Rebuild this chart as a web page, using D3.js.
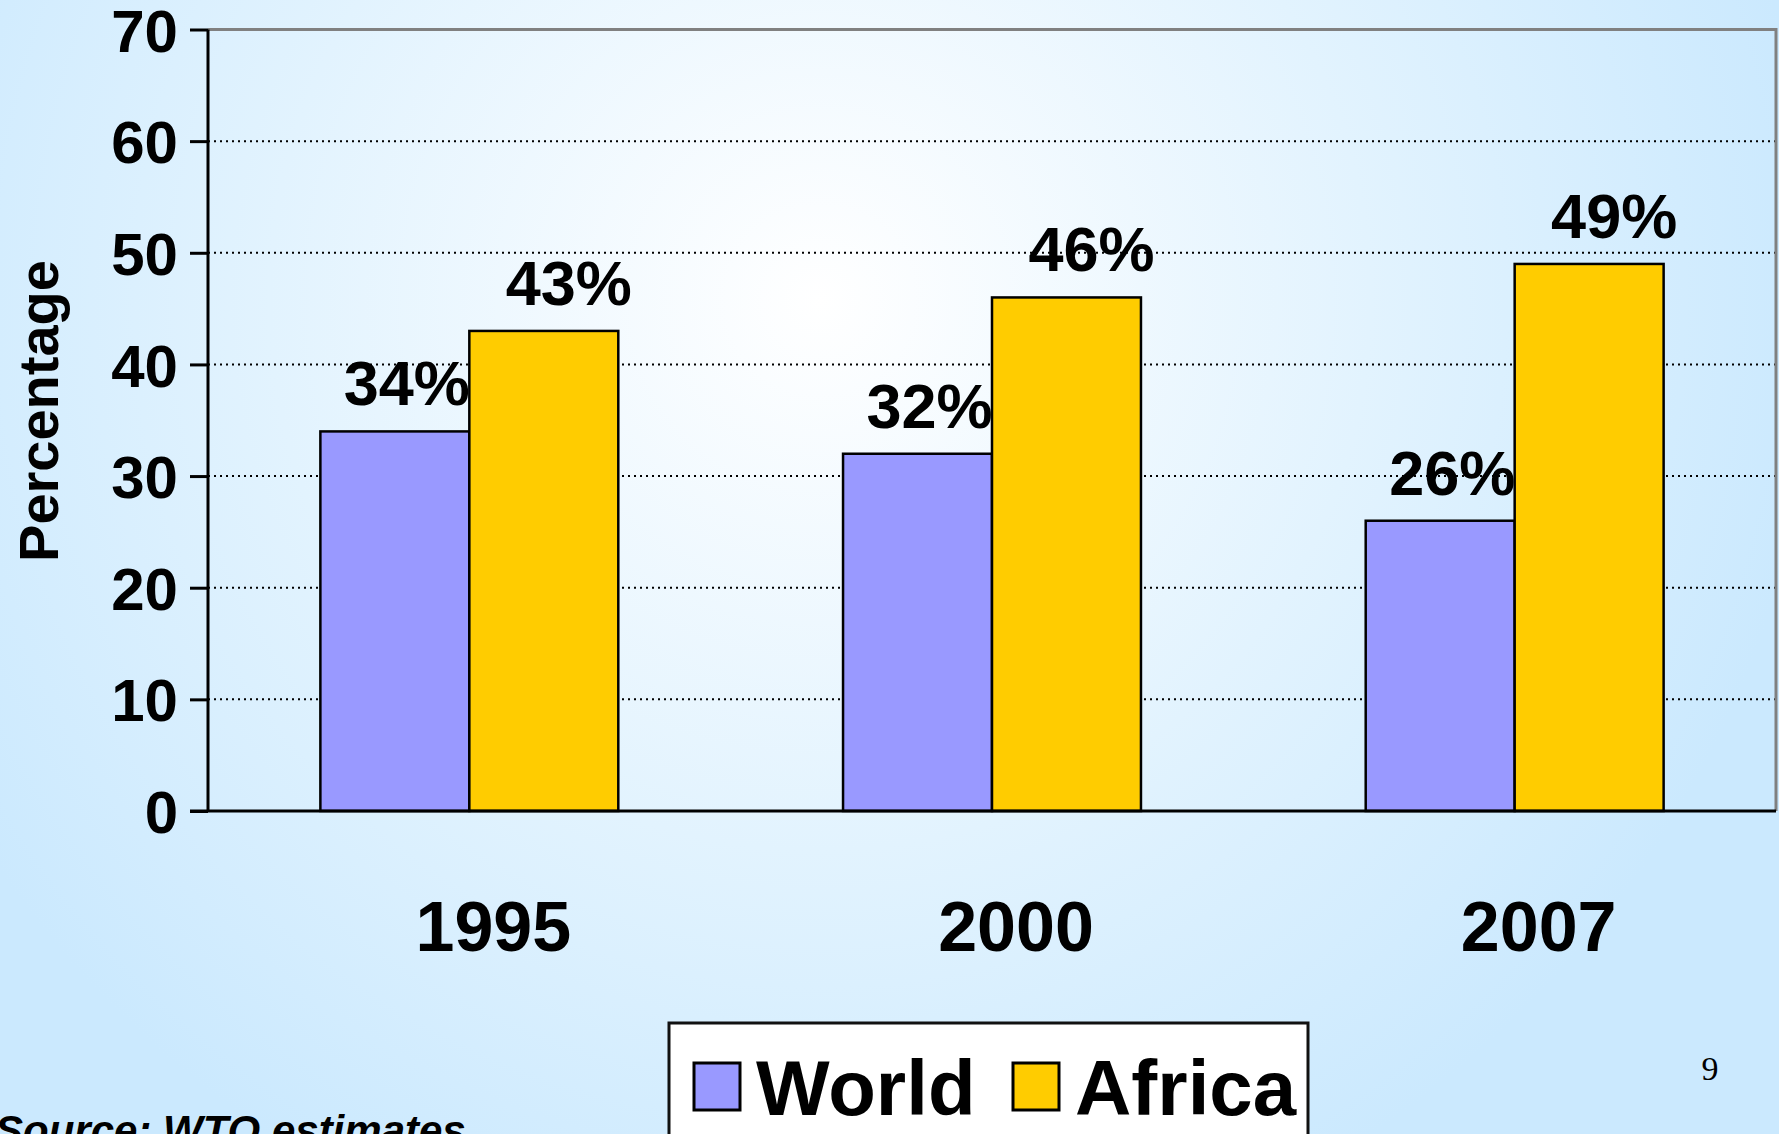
<!DOCTYPE html>
<html>
<head>
<meta charset="utf-8">
<script src="https://cdn.jsdelivr.net/npm/d3@7"></script>
<style>
  html, body { margin: 0; padding: 0; overflow: hidden; }
  svg { display: block; font-family: "Liberation Sans", Arial, sans-serif; }
</style>
</head>
<body>
<svg width="1779" height="1134"></svg>
<script>
// chart data
var years = ["1995", "2000", "2007"];
var series = ["World", "Africa"];
var worldValues = [34, 32, 26];
var africaValues = [43, 46, 49];
var yTicks = [0, 10, 20, 30, 40, 50, 60, 70];
var colors = ["#9999ff", "#ffcc00"];

var svg = d3.select("svg"),
	width = +svg.attr("width"),
	height = +svg.attr("height");

// background gradient
var defs = svg.append("defs");
var grad = defs.append("radialGradient")
	.attr("id", "bg")
	.attr("gradientUnits", "userSpaceOnUse")
	.attr("cx", 820).attr("cy", 300).attr("r", 1000);
grad.append("stop").attr("offset", "0").attr("stop-color", "#ffffff");
grad.append("stop").attr("offset", "0.55").attr("stop-color", "#e2f3fe");
grad.append("stop").attr("offset", "1").attr("stop-color", "#cbe9fe");
svg.append("rect").attr("width", width).attr("height", height).attr("fill", "url(#bg)");

var plot = { left: 208, top: 29.5, right: 1776, bottom: 811 };

var x = d3.scaleBand()
	.domain(years)
	.range([plot.left, plot.right])
	.paddingInner(0.43)
	.paddingOuter(0.215);

var xs = d3.scaleBand()
	.domain(series)
	.range([0, x.bandwidth()]);

var y = d3.scaleLinear()
	.domain([0, 70])
	.range([plot.bottom, plot.top]);

// gridlines
svg.append("g")
	.selectAll("line")
	.data(yTicks.filter(function(d) { return d > 0 && d < 70; }))
	.enter().append("line")
	.attr("x1", plot.left).attr("x2", plot.right)
	.attr("y1", function(d) { return y(d); })
	.attr("y2", function(d) { return y(d); })
	.attr("stroke", "#000")
	.attr("stroke-width", 2)
	.attr("stroke-dasharray", "2,4");

// top & right frame
svg.append("path")
	.attr("d", "M" + plot.left + "," + plot.top + "H" + plot.right + "V" + plot.bottom)
	.attr("fill", "none")
	.attr("stroke", "#808080")
	.attr("stroke-width", 3);

// bars
var rows = years.map(function(yr, i) {
	return { year: yr, values: [worldValues[i], africaValues[i]] };
});

var groups = svg.append("g")
	.selectAll("g")
	.data(rows)
	.enter().append("g")
	.attr("transform", function(d) { return "translate(" + x(d.year) + ",0)"; });

groups.selectAll("rect")
	.data(function(d) { return d.values.map(function(v, j) { return { key: series[j], value: v, c: j }; }); })
	.enter().append("rect")
	.attr("x", function(d) { return xs(d.key); })
	.attr("y", function(d) { return y(d.value); })
	.attr("width", xs.bandwidth())
	.attr("height", function(d) { return y(0) - y(d.value); })
	.attr("fill", function(d) { return colors[d.c]; })
	.attr("stroke", "#000")
	.attr("stroke-width", 2.5);

// value labels (africa labels sit a bit further right)
groups.selectAll("text")
	.data(function(d) { return d.values.map(function(v, j) { return { key: series[j], value: v, c: j }; }); })
	.enter().append("text")
	.attr("x", function(d) { return xs(d.key) + xs.bandwidth() / 2 + (d.c ? 25 : 12); })
	.attr("y", function(d) { return y(d.value) - 26; })
	.attr("text-anchor", "middle")
	.attr("font-size", 63)
	.attr("font-weight", "bold")
	.text(function(d) { return d.value + "%"; });

// y axis
var yAxis = svg.append("g")
	.attr("transform", "translate(" + plot.left + ",0)")
	.call(d3.axisLeft(y).tickValues(yTicks).tickSize(18).tickPadding(12));
yAxis.select(".domain").attr("stroke", "#000").attr("stroke-width", 3)
	.attr("d", "M0," + plot.top + "V" + plot.bottom);
yAxis.selectAll(".tick line").attr("stroke", "#000").attr("stroke-width", 3);
yAxis.selectAll(".tick text")
	.attr("font-size", 60)
	.attr("font-weight", "bold")
	.attr("font-family", "Liberation Sans, Arial, sans-serif")
	.attr("fill", "#000")
	.attr("dy", "0.36em");

// bottom axis line
svg.append("line")
	.attr("x1", plot.left - 18).attr("x2", plot.right)
	.attr("y1", y(0)).attr("y2", y(0))
	.attr("stroke", "#000").attr("stroke-width", 3);

// category labels
svg.append("g")
	.selectAll("text")
	.data(years)
	.enter().append("text")
	.attr("x", function(d) { return x(d) + x.bandwidth() / 2 + 24; })
	.attr("y", 951)
	.attr("text-anchor", "middle")
	.attr("font-size", 70)
	.attr("font-weight", "bold")
	.text(function(d) { return d; });

// y label
svg.append("text")
	.attr("transform", "translate(58,411) rotate(-90)")
	.attr("text-anchor", "middle")
	.attr("font-size", 56)
	.attr("font-weight", "bold")
	.text("Percentage");

// legend
var legend = svg.append("g");
legend.append("rect")
	.attr("x", 669).attr("y", 1023)
	.attr("width", 639).attr("height", 150)
	.attr("fill", "#fff")
	.attr("stroke", "#111")
	.attr("stroke-width", 3);

var legendX = [694, 1013];
var items = legend.selectAll("g")
	.data(series)
	.enter().append("g")
	.attr("transform", function(d, i) { return "translate(" + legendX[i] + ",1063)"; });
items.append("rect")
	.attr("width", 46).attr("height", 47)
	.attr("fill", function(d, i) { return colors[i]; })
	.attr("stroke", "#000")
	.attr("stroke-width", 3);
items.append("text")
	.attr("x", 62).attr("y", 52)
	.attr("font-size", 78)
	.attr("font-weight", "bold")
	.text(function(d) { return d; });

// source and page number
svg.append("text")
	.attr("x", -5).attr("y", 1145)
	.attr("font-size", 42)
	.attr("font-weight", "bold")
	.attr("font-style", "italic")
	.text("Source: WTO estimates");

svg.append("text")
	.attr("x", 1710).attr("y", 1080)
	.attr("text-anchor", "middle")
	.attr("font-size", 34)
	.attr("font-family", "Liberation Serif, Times New Roman, serif")
	.text("9");
</script>
</body>
</html>
